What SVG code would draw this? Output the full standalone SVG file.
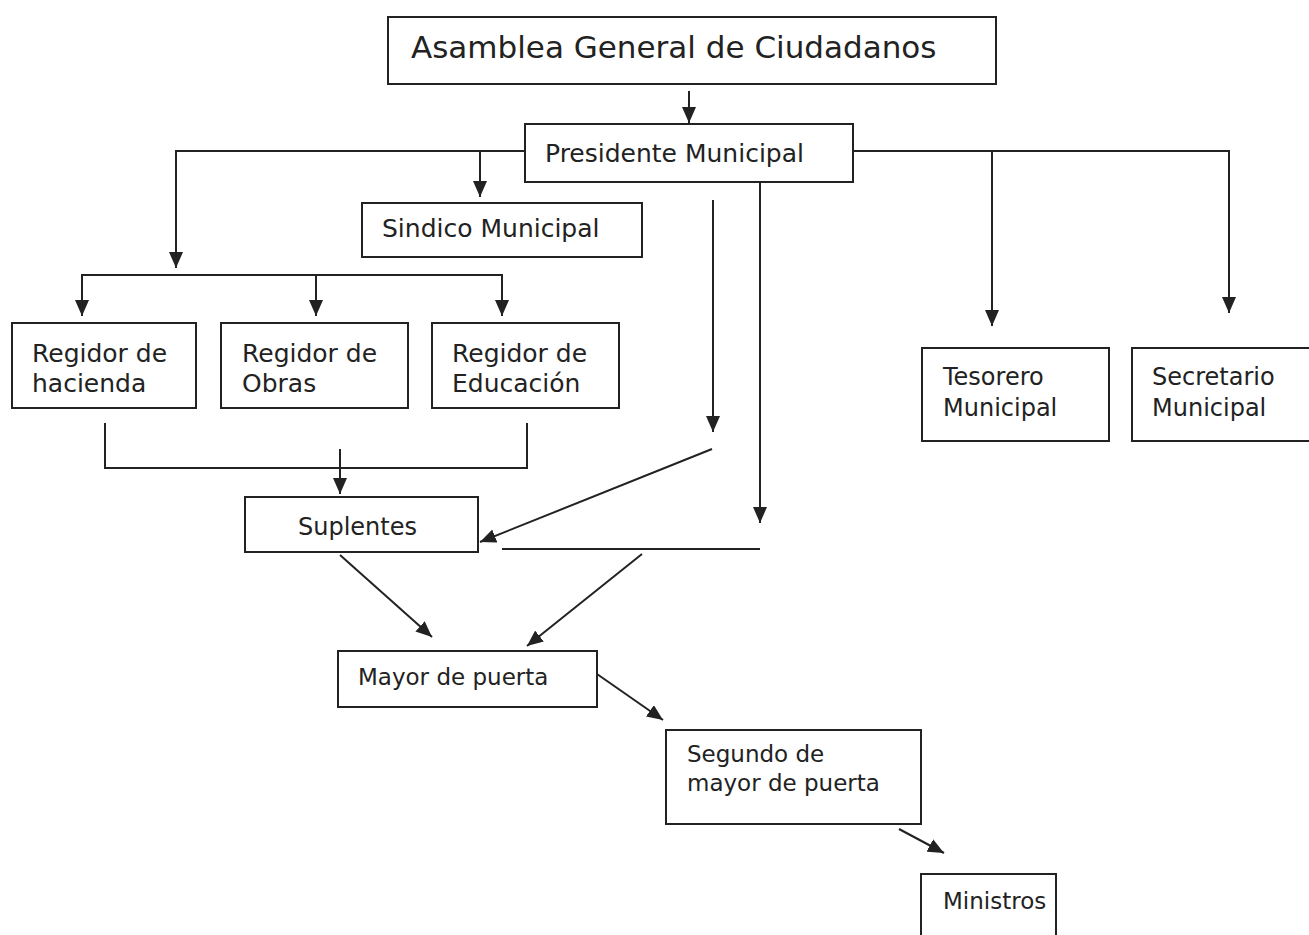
<svg xmlns="http://www.w3.org/2000/svg" width="1309" height="935" viewBox="0 0 1309 935">
<style>
.box{fill:#fff;stroke:#222;stroke-width:2}
.t{font-family:"DejaVu Sans",sans-serif;fill:#222}
.c{fill:none;stroke:#222;stroke-width:2}
</style>
<defs>
<marker id="ah" markerUnits="userSpaceOnUse" markerWidth="16" markerHeight="14" viewBox="0 0 16 14" refX="16" refY="7" orient="auto">
<path d="M0,0 L16,7 L0,14 Z" fill="#222"/>
</marker>
</defs>
<rect width="1309" height="935" fill="#fff"/>
<g id="connectors">
<line class="c" x1="689" y1="91" x2="689" y2="123" marker-end="url(#ah)"/>
<polyline class="c" points="525,151 176,151 176,268" marker-end="url(#ah)"/>
<line class="c" x1="480" y1="151" x2="480" y2="197" marker-end="url(#ah)"/>
<polyline class="c" points="82,316 82,275 502,275 502,316" marker-end="url(#ah)"/>
<line class="c" x1="82" y1="275" x2="82" y2="316" marker-end="url(#ah)"/>
<line class="c" x1="316" y1="275" x2="316" y2="316" marker-end="url(#ah)"/>
<polyline class="c" points="853,151 1229,151 1229,313" marker-end="url(#ah)"/>
<line class="c" x1="992" y1="151" x2="992" y2="326" marker-end="url(#ah)"/>
<polyline class="c" points="105,423 105,468 527,468 527,423"/>
<line class="c" x1="340" y1="449" x2="340" y2="494" marker-end="url(#ah)"/>
<line class="c" x1="713" y1="200" x2="713" y2="432" marker-end="url(#ah)"/>
<line class="c" x1="760" y1="182" x2="760" y2="523" marker-end="url(#ah)"/>
<line class="c" x1="712" y1="449" x2="480" y2="542" marker-end="url(#ah)"/>
<line class="c" x1="502" y1="549" x2="760" y2="549"/>
<line class="c" x1="642" y1="554" x2="527" y2="646" marker-end="url(#ah)"/>
<line class="c" x1="340" y1="555" x2="432" y2="637" marker-end="url(#ah)"/>
<line class="c" x1="597" y1="674" x2="663" y2="720" marker-end="url(#ah)"/>
<line class="c" x1="899" y1="829" x2="944" y2="853" marker-end="url(#ah)"/>
</g>
<g id="asamblea"><rect class="box" x="388" y="17" width="608" height="67"/><text class="t" x="411" y="58" font-size="31">Asamblea General de Ciudadanos</text></g>
<g id="presidente"><rect class="box" x="525" y="124" width="328" height="58"/><text class="t" x="545" y="162" font-size="25">Presidente Municipal</text></g>
<g id="sindico"><rect class="box" x="362" y="203" width="280" height="54"/><text class="t" x="382" y="237" font-size="25">Sindico Municipal</text></g>
<g id="reg-hacienda"><rect class="box" x="12" y="323" width="184" height="85"/><text class="t" x="32" y="362" font-size="25">Regidor de</text><text class="t" x="32" y="392" font-size="25">hacienda</text></g>
<g id="reg-obras"><rect class="box" x="221" y="323" width="187" height="85"/><text class="t" x="242" y="362" font-size="25">Regidor de</text><text class="t" x="242" y="392" font-size="25">Obras</text></g>
<g id="reg-educacion"><rect class="box" x="432" y="323" width="187" height="85"/><text class="t" x="452" y="362" font-size="25">Regidor de</text><text class="t" x="452" y="392" font-size="25">Educación</text></g>
<g id="tesorero"><rect class="box" x="922" y="348" width="187" height="93"/><text class="t" x="943" y="385" font-size="24">Tesorero</text><text class="t" x="943" y="416" font-size="24">Municipal</text></g>
<g id="secretario"><rect class="box" x="1132" y="348" width="190" height="93"/><text class="t" x="1152" y="385" font-size="24">Secretario</text><text class="t" x="1152" y="416" font-size="24">Municipal</text></g>
<g id="suplentes"><rect class="box" x="245" y="497" width="233" height="55"/><text class="t" x="298" y="535" font-size="24">Suplentes</text></g>
<g id="mayor"><rect class="box" x="338" y="651" width="259" height="56"/><text class="t" x="358" y="685" font-size="23">Mayor de puerta</text></g>
<g id="segundo"><rect class="box" x="666" y="730" width="255" height="94"/><text class="t" x="687" y="762" font-size="23">Segundo de</text><text class="t" x="687" y="791" font-size="23">mayor de puerta</text></g>
<g id="ministros"><rect class="box" x="921" y="874" width="135" height="70"/><text class="t" x="943" y="909" font-size="23">Ministros</text></g>
</svg>
